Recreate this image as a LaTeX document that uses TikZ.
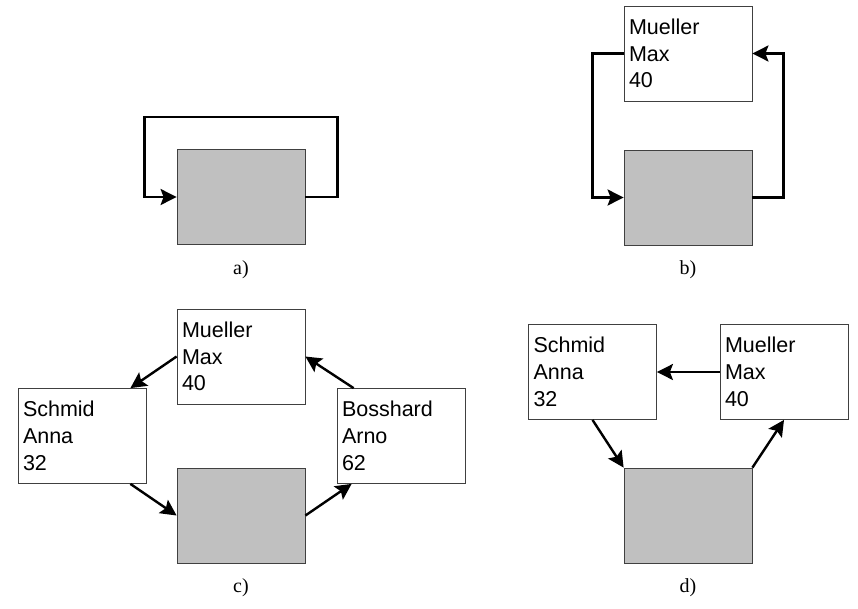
\documentclass[tikz,border=0pt]{standalone}
\usepackage{fontspec}
\setmainfont{Liberation Sans}
\newfontfamily\capserif{Liberation Serif}
\usetikzlibrary{arrows.meta,calc}
\definecolor{boxgray}{HTML}{C0C0C0}
\definecolor{edgegray}{HTML}{404040}
\tikzset{
  graybox/.style={draw=edgegray,line width=0.8pt,fill=boxgray,minimum width=128pt,minimum height=95pt,inner sep=0pt},
  namebox/.style={draw=edgegray,line width=0.8pt,fill=white,minimum width=128pt,minimum height=95pt,
    text width=118pt,inner xsep=5pt,inner ysep=0pt,align=left,font=\fontsize{21.5pt}{26.7pt}\selectfont},
  conn/.style={line width=2.4pt,-{Stealth[length=16pt,width=16pt,inset=3pt]}},
  caplabel/.style={font=\capserif\fontsize{20pt}{24pt}\selectfont}
}
\begin{document}
\begin{tikzpicture}[x=1pt,y=-1pt]
\useasboundingbox (0,0) rectangle (858,608);
% a)
\node[graybox] (ga) at (241,197) {};
\draw[conn] (ga.east) -- ++(32,0) |- ($(ga.north)+(0,-32)$) -| ($(ga.west)+(-32,0)$) -- (ga.west);
\node[caplabel] (la) at (241,270) {a)};
% b)
\node[graybox] (gb) at (688,197.5) {};
\node[namebox] (mb) at (688,53.5) {Mueller\\Max\\40};
\draw[conn] (mb.west) -- ++(-31,0) |- (gb.west);
\draw[conn] (gb.east) -- ++(31,0) |- (mb.east);
\node[caplabel] (lb) at (688,270) {b)};
% c)
\node[namebox] (mc) at (241,356.5) {Mueller\\Max\\40};
\node[namebox] (sc) at (82,436) {Schmid\\Anna\\32};
\node[namebox] (bc) at (401,436) {Bosshard\\Arno\\62};
\node[graybox] (gc) at (241,515.5) {};
\draw[conn] (mc.west) -- ($(sc.north east)+(-16,0)$);
\draw[conn] ($(sc.south east)+(-16,0)$) -- (gc.west);
\draw[conn] (gc.east) -- ($(bc.south west)+(15,0)$);
\draw[conn] ($(bc.north west)+(17,0)$) -- (mc.east);
\node[caplabel] (lc) at (241,588) {c)};
% d)
\node[namebox] (sd) at (592.5,372) {Schmid\\Anna\\32};
\node[namebox] (md) at (784,372) {Mueller\\Max\\40};
\node[graybox] (gd) at (688,515.5) {};
\draw[conn] (md.west) -- (sd.east);
\draw[conn] (sd.south) -- (gd.north west);
\draw[conn] (gd.north east) -- (md.south);
\node[caplabel] (ld) at (688,588) {d)};
\end{tikzpicture}
\end{document}
